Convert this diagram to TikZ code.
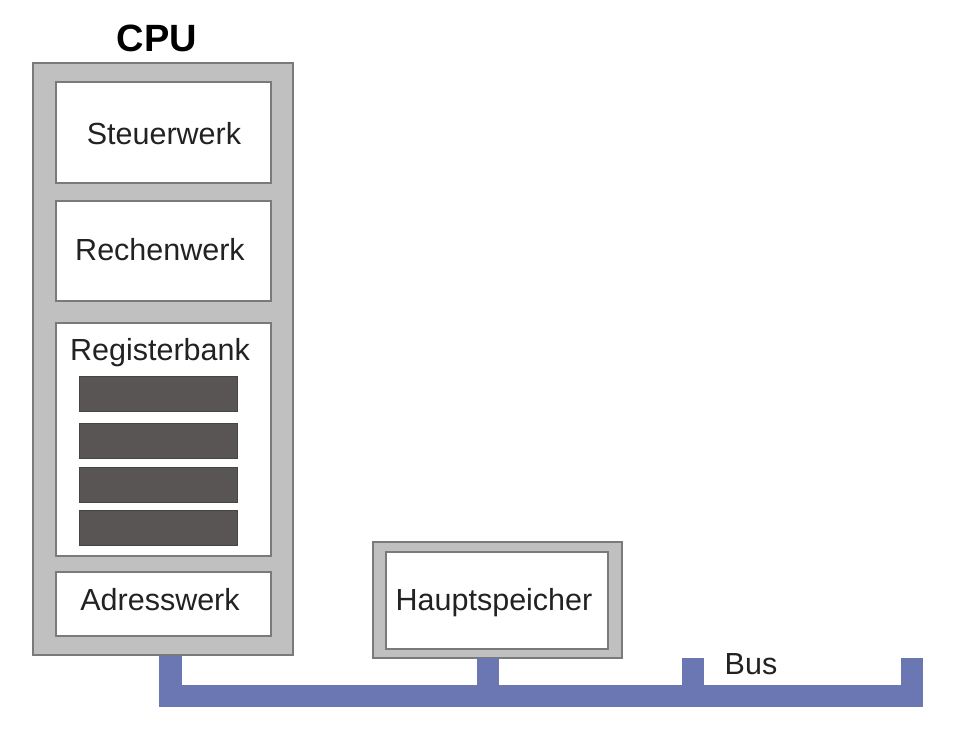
\documentclass[tikz,border=0pt]{standalone}
\usepackage{fontspec}
\setmainfont{Liberation Sans}
\definecolor{cpugray}{HTML}{C0C0C0}
\definecolor{edgegray}{HTML}{7A7A7A}
\definecolor{regdark}{HTML}{595555}
\definecolor{busblue}{HTML}{6A77B3}
\definecolor{txt}{HTML}{222222}
\begin{document}
\begin{tikzpicture}[x=1pt,y=-1pt,
  outerbox/.style={draw=edgegray,fill=cpugray,line width=1.2pt},
  unitbox/.style={draw=edgegray,fill=white,line width=1.2pt},
  regbar/.style={fill=regdark,draw=regdark!80!black,line width=0.6pt},
  lbl/.style={font=\fontsize{30.5}{34}\selectfont,text=txt,inner sep=0pt,anchor=base},
  busfill/.style={fill=busblue,draw=none}]
\useasboundingbox (0,0) rectangle (955,733);
% CPU frame
\path[outerbox] (33,63) rectangle (293,655);
\node[font=\bfseries\fontsize{38}{42}\selectfont,text=black,inner sep=0pt,anchor=base] (cpu) at (157,52) {CPU};
% units
\path[unitbox] (56,82) rectangle (271,183);
\node[lbl] (steuer) at (164,144) {Steuerwerk};
\path[unitbox] (56,201) rectangle (271,301);
\node[lbl] (rechen) at (160,260) {Rechenwerk};
\path[unitbox] (56,323) rectangle (271,556);
\node[lbl] (regbank) at (160,360) {Registerbank};
\path[regbar] (79,376) rectangle (237,411);
\path[regbar] (79,423) rectangle (237,458);
\path[regbar] (79,467) rectangle (237,502);
\path[regbar] (79,510) rectangle (237,545);
\path[unitbox] (56,572) rectangle (271,636);
\node[lbl] (adr) at (160,610) {Adresswerk};
% Hauptspeicher
\path[outerbox] (373,542) rectangle (622,658);
\path[unitbox] (386,552) rectangle (608,649);
\node[lbl] (haupt) at (494,610) {Hauptspeicher};
% Bus
\path[busfill] (159,685) rectangle (923,707);
\path[busfill] (159,656) rectangle (182,686);
\path[busfill] (477,658) rectangle (499,686);
\path[busfill] (682,658) rectangle (704,686);
\path[busfill] (901,658) rectangle (923,686);
\node[lbl] (bus) at (751,674) {Bus};
\end{tikzpicture}
\end{document}
